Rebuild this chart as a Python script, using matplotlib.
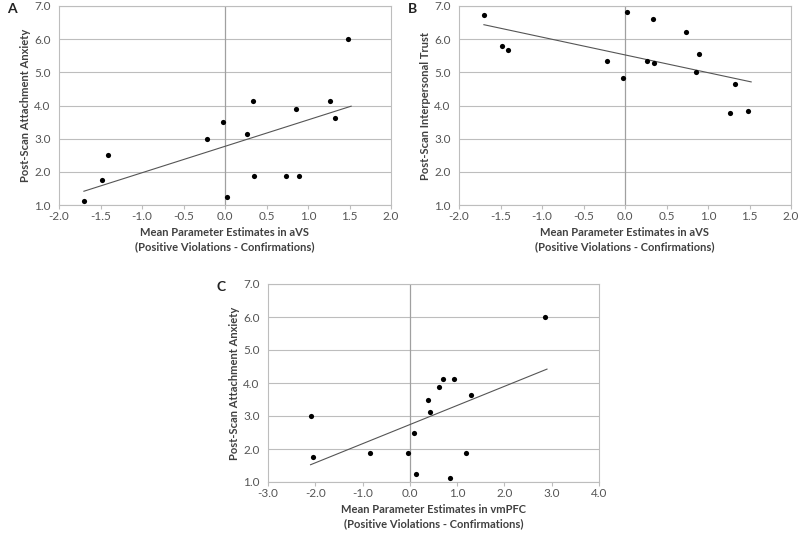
import numpy as np
import matplotlib
matplotlib.use("Agg")
import matplotlib.pyplot as plt

plt.rcParams['font.family'] = ['Lato', 'DejaVu Sans']

# aVS estimates (same subjects in panels A and B)
avs_x = [-1.70, -1.48, -1.41, -0.22, -0.02, 0.02, 0.26, 0.34, 0.35, 0.74, 0.85, 0.89, 1.26, 1.32, 1.48]
anxiety_a = [1.13, 1.75, 2.50, 3.00, 3.50, 1.25, 3.13, 4.13, 1.88, 1.88, 3.88, 1.88, 4.13, 3.63, 6.00]
trust_b = [6.72, 5.78, 5.66, 5.35, 4.83, 6.83, 5.33, 6.61, 5.28, 6.23, 5.01, 5.56, 3.78, 4.65, 3.83]

# vmPFC estimates (panel C)
vmpfc_x = [-2.10, -2.05, -0.85, -0.04, 0.08, 0.13, 0.39, 0.42, 0.62, 0.70, 0.85, 0.94, 1.18, 1.30, 2.86]
anxiety_c = [3.00, 1.75, 1.88, 1.88, 2.50, 1.25, 3.50, 3.13, 3.88, 4.13, 1.13, 4.13, 1.88, 3.63, 6.00]

y_ticks = [1, 2, 3, 4, 5, 6, 7]
avs_ticks = [-2.0, -1.5, -1.0, -0.5, 0.0, 0.5, 1.0, 1.5, 2.0]
vmpfc_ticks = [-3, -2, -1, 0, 1, 2, 3, 4]

W, H = 798, 535
fig = plt.figure(figsize=(W / 100, H / 100), dpi=100)

tick_col = '#555555'
lab_col = '#404040'


def make_ax(left, right, top, bottom):
    return fig.add_axes([left / W, 1 - bottom / H, (right - left) / W, (bottom - top) / H])


def scatter_panel(ax, x, y, xticks, xlabel, ylabel, letter):
    x = np.array(x)
    y = np.array(y)
    ax.set_xlim(xticks[0], xticks[-1])
    ax.set_ylim(1, 7)
    ax.set_xticks(xticks)
    ax.set_yticks(y_ticks)
    ax.set_xticklabels([f"{t:.1f}" for t in xticks])
    ax.set_yticklabels([f"{t:.1f}" for t in y_ticks])
    for yy in y_ticks:
        ax.axhline(yy, color='#bdbdbd', lw=0.8, zorder=1)
    ax.axvline(0, color='#a0a0a0', lw=0.9, zorder=1)
    for s in ax.spines.values():
        s.set_color('#bdbdbd')
        s.set_linewidth(0.8)
    ax.tick_params(axis='x', direction='out', length=3, color='#bdbdbd',
                   labelsize=8.5, labelcolor=tick_col, pad=1)
    ax.tick_params(axis='y', length=0, labelsize=8.5, labelcolor=tick_col, pad=6)

    # linear trend line
    k, b = np.polyfit(x, y, 1)
    xs = np.array([x.min(), x.max() + 0.04])
    ax.plot(xs, k * xs + b, color='#555555', lw=0.8, zorder=2)
    ax.scatter(x, y, s=14, color='black', zorder=3, linewidths=0)

    ax.set_xlabel(xlabel, fontsize=8, fontweight='bold', color=lab_col,
                  linespacing=1.35, labelpad=4)
    ax.set_ylabel(ylabel, fontsize=8, fontweight='bold', color=lab_col, labelpad=2)
    ax.text(-0.155, 0.985, letter, transform=ax.transAxes, fontsize=10,
            fontweight='bold', color='#222222', va='center', ha='left')


xl_avs = "Mean Parameter Estimates in aVS\n(Positive Violations - Confirmations)"
xl_vm = "Mean Parameter Estimates in vmPFC\n(Positive Violations - Confirmations)"

ax_a = make_ax(59, 391, 6, 205)
scatter_panel(ax_a, avs_x, anxiety_a, avs_ticks, xl_avs, "Post-Scan Attachment Anxiety", "A")

ax_b = make_ax(459, 791, 6, 205)
scatter_panel(ax_b, avs_x, trust_b, avs_ticks, xl_avs, "Post-Scan Interpersonal Trust", "B")

ax_c = make_ax(268, 599, 284, 482)
scatter_panel(ax_c, vmpfc_x, anxiety_c, vmpfc_ticks, xl_vm, "Post-Scan Attachment Anxiety", "C")

fig.savefig("out.png", dpi=100, facecolor='white')
